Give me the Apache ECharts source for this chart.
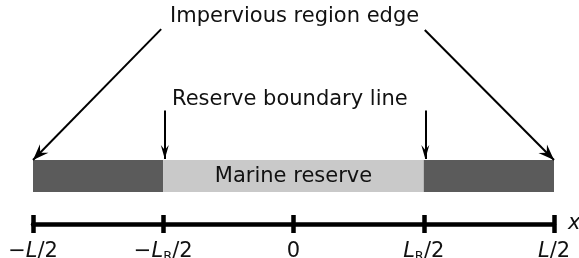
<!DOCTYPE html>
<html>
<head>
<meta charset="utf-8">
<script src="https://cdn.jsdelivr.net/npm/echarts@6/dist/echarts.min.js"></script>
<style>
  html, body { margin: 0; padding: 0; background: #fff; }
  #chart { width: 579px; height: 258px; }
</style>
</head>
<body>
<div id="chart"></div>
<script>
// x measured in units of L (L = 1), reserve width LR = L/2
const tickValues = [-0.5, -0.25, 0, 0.25, 0.5];
const tickLabels = [
  '{n|−}{i|L}{n|/2}',
  '{n|−}{i|L}{s|R}{n|/2}',
  '{n|0}',
  '{i|L}{s|R}{n|/2}',
  '{i|L}{n|/2}'
];

// strip segments: start, end, kind
const segStart = [-0.5, -0.25, 0.25];
const segEnd = [-0.25, 0.25, 0.5];
const segKind = ['impervious', 'reserve', 'impervious'];
const segText = ['', 'Marine reserve', ''];
const stripBottom = 1;
const stripTop = 2;

// annotation arrows: tail -> tip
const arrowFrom = [[-0.254, 6.09], [0.252, 6.06], [-0.247, 3.55], [0.253, 3.55]];
const arrowTo = [[-0.5, 2], [0.5, 2], [-0.247, 2.03], [0.253, 2.03]];
const arrowKind = ['edge', 'edge', 'boundary', 'boundary'];

const FONT = '"DejaVu Sans", "Liberation Sans", sans-serif';
const colors = { impervious: '#5b5b5b', reserve: '#c9c9c9' };

// dart shaped head, tip in the middle of the box so it lands on the end point
const dart = 'path://M5,14 L10,28 L5,23 L0,28 Z M5,0 L5.01,0.01 Z';

const chart = echarts.init(document.getElementById('chart'));

const stripData = segStart.map((s, i) => [s, segEnd[i], stripBottom, stripTop, i]);

const arrowLines = arrowFrom.map((f, i) => {
  const edge = arrowKind[i] === 'edge';
  return [
    { coord: f, symbol: 'none' },
    { coord: arrowTo[i], symbol: dart, symbolSize: edge ? [12, 32] : [8, 28] }
  ];
});

const option = {
  animation: false,
  grid: { left: 33, right: 25, top: 0, bottom: 34, outerBoundsMode: 'none', containLabel: false },
  xAxis: [
    {
      type: 'value',
      min: -0.5,
      max: 0.5,
      interval: 0.25,
      position: 'bottom',
      splitLine: { show: false },
      axisLine: { show: true, lineStyle: { color: '#000', width: 4.5 } },
      axisTick: { show: true, length: 9, lineStyle: { color: '#000', width: 4.5 } },
      axisLabel: {
        margin: 17,
        formatter: v => tickLabels[tickValues.indexOf(Math.round(v * 100) / 100)] || '',
        rich: {
          n: { fontFamily: FONT, fontSize: 21, color: '#111', lineHeight: 30, verticalAlign: 'top' },
          i: { fontFamily: FONT, fontSize: 21, fontStyle: 'italic', color: '#111', lineHeight: 30, verticalAlign: 'top' },
          s: { fontFamily: FONT, fontSize: 13, color: '#111', lineHeight: 30, verticalAlign: 'top', padding: [9, 0, 0, 0] }
        }
      },
      name: 'x',
      nameLocation: 'end',
      nameGap: 14,
      nameTextStyle: { fontFamily: FONT, fontSize: 21, fontStyle: 'italic', color: '#111', verticalAlign: 'middle' }
    },
    {
      type: 'value',
      min: -0.5,
      max: 0.5,
      interval: 0.25,
      position: 'bottom',
      splitLine: { show: false },
      axisLine: { show: false },
      axisTick: { show: true, inside: true, length: 9, lineStyle: { color: '#000', width: 4.5 } },
      axisLabel: { show: false }
    }
  ],
  yAxis: { type: 'value', min: 0, max: 7, show: false, splitLine: { show: false } },
  graphic: [
    {
      type: 'text', left: 170, top: 6,
      style: { text: 'Impervious region edge', font: '21px ' + FONT, fill: '#111' }
    },
    {
      type: 'text', left: 172, top: 89,
      style: { text: 'Reserve boundary line', font: '21px ' + FONT, fill: '#111' }
    }
  ],
  series: [
    {
      type: 'custom',
      data: stripData,
      renderItem: (params, api) => {
        const a = api.coord([api.value(0), api.value(3)]);
        const b = api.coord([api.value(1), api.value(2)]);
        const idx = api.value(4);
        const children = [{
          type: 'rect',
          shape: { x: a[0], y: a[1], width: b[0] - a[0], height: b[1] - a[1] },
          style: { fill: colors[segKind[idx]] }
        }];
        if (segText[idx]) {
          children.push({
            type: 'text',
            style: {
              text: segText[idx], x: (a[0] + b[0]) / 2, y: (a[1] + b[1]) / 2 + 1,
              align: 'center', verticalAlign: 'middle', font: '21px ' + FONT, fill: '#111'
            }
          });
        }
        return { type: 'group', children };
      },
      markLine: {
        silent: true,
        animation: false,
        label: { show: false },
        lineStyle: { color: '#000', width: 2, type: 'solid' },
        itemStyle: { color: '#000' },
        data: arrowLines
      }
    }
  ]
};

chart.setOption(option);
</script>
</body>
</html>
